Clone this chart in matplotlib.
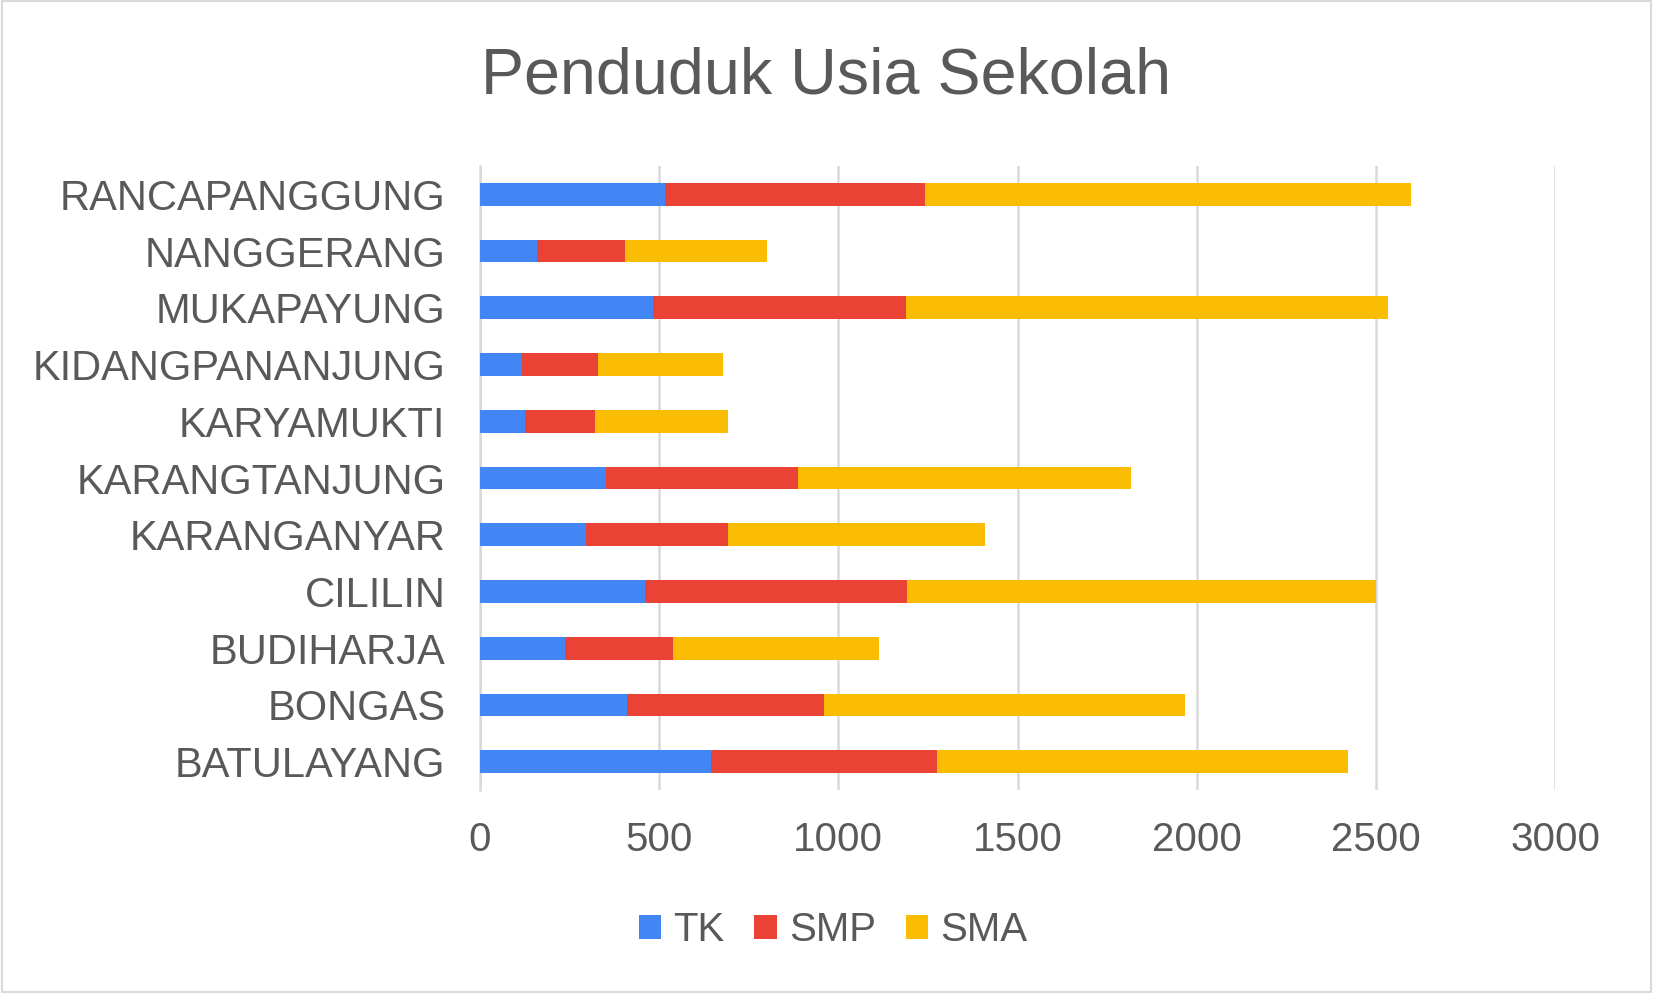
import numpy as np
import matplotlib
matplotlib.use('Agg')
import matplotlib.pyplot as plt

# data
desa = ['BATULAYANG', 'BONGAS', 'BUDIHARJA', 'CILILIN', 'KARANGANYAR',
        'KARANGTANJUNG', 'KARYAMUKTI', 'KIDANGPANANJUNG', 'MUKAPAYUNG',
        'NANGGERANG', 'RANCAPANGGUNG']
tk = [646, 411, 237, 461, 297, 351, 126, 118, 483, 158, 516]
smp = [629, 549, 301, 732, 394, 536, 196, 210, 705, 248, 727]
sma = [1147, 1008, 575, 1307, 717, 929, 369, 349, 1346, 394, 1355]
xticks = [0, 500, 1000, 1500, 2000, 2500, 3000]

plt.rcParams['font.family'] = ['Liberation Sans', 'DejaVu Sans']
txt = '#595959'

fig = plt.figure(figsize=(16.53, 9.93), dpi=100)
ax = fig.add_axes([480 / 1653, 1 - 790 / 993, (1555 - 480) / 1653, (790 - 166) / 993])

y = np.arange(len(desa))
tk = np.array(tk)
smp = np.array(smp)
sma = np.array(sma)
h = 0.4
ax.barh(y, tk, height=h, color='#4285F4', label='TK', zorder=3)
ax.barh(y, smp, left=tk, height=h, color='#EA4335', label='SMP', zorder=3)
ax.barh(y, sma, left=tk + smp, height=h, color='#FBBC04', label='SMA', zorder=3)

ax.set_xlim(0, 3000)
ax.set_ylim(-0.5, len(desa) - 0.5)
ax.set_xticks(xticks)
ax.set_yticks(y)
ax.set_yticklabels(desa)
ax.grid(axis='x', color='#d9d9d9', linewidth=1.8, zorder=0)
for s in ['top', 'right', 'bottom']:
    ax.spines[s].set_visible(False)
ax.spines['left'].set_color('#d9d9d9')
ax.spines['left'].set_linewidth(1.8)
ax.tick_params(axis='both', length=0, colors=txt)
ax.tick_params(axis='y', pad=25, labelsize=30)
ax.tick_params(axis='x', pad=22, labelsize=29)

fig.text(826 / 1653, 1 - 77 / 993, 'Penduduk Usia Sekolah', ha='center',
         va='center', fontsize=46.5, color=txt)

leg = fig.legend(loc='center', bbox_to_anchor=(833 / 1653, 1 - 930 / 993), ncol=3,
                 frameon=False, fontsize=29, handlelength=0.55, handleheight=0.55,
                 handletextpad=0.3, columnspacing=0.75)
for t in leg.get_texts():
    t.set_color(txt)

fig.patches.append(plt.Rectangle((0.001, 0.001), 0.998, 0.998, transform=fig.transFigure,
                                 fill=False, edgecolor='#d9d9d9', linewidth=1.5))

fig.savefig('out.png', dpi=100)
